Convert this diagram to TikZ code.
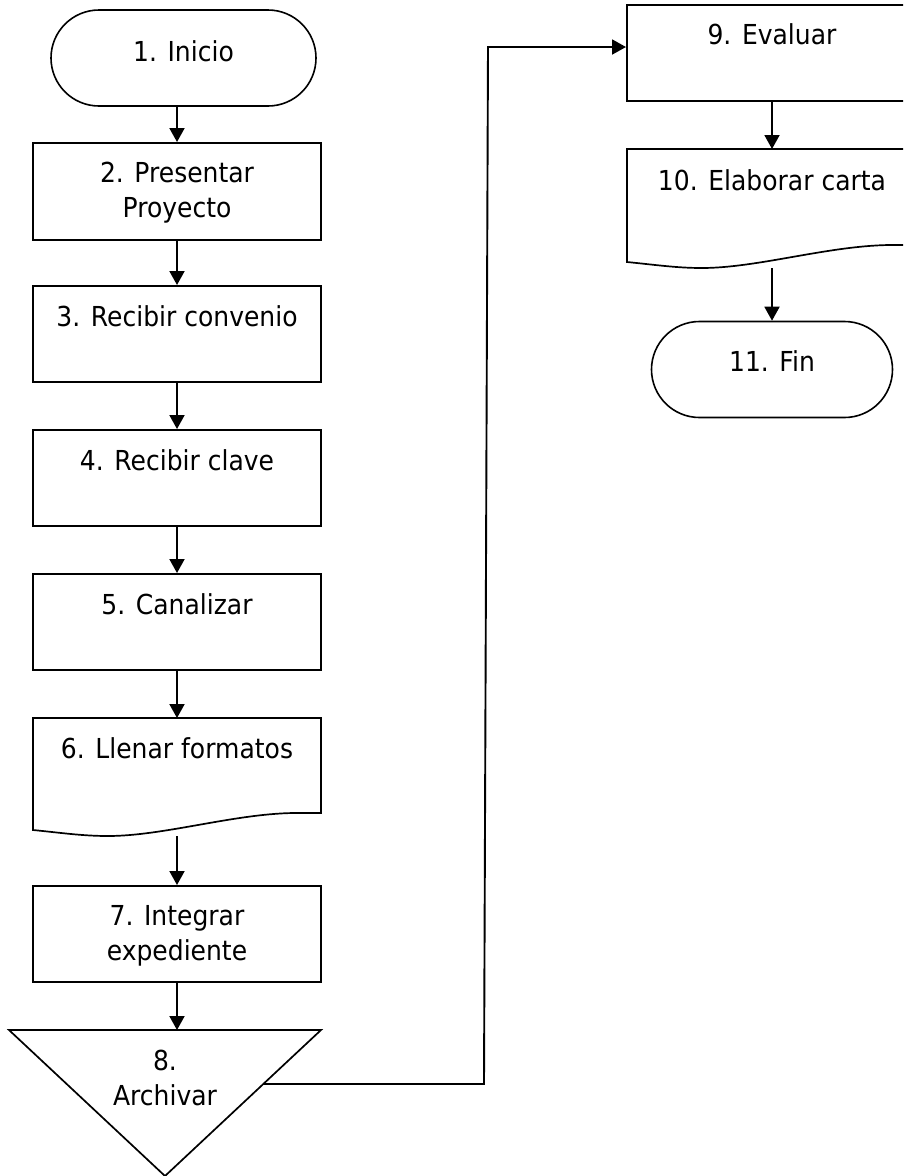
\documentclass[tikz,border=0pt]{standalone}
\usepackage{fontspec}
\setmainfont{DejaVu Sans}[FakeStretch=0.91]
\usetikzlibrary{arrows.meta,calc}

% document symbol: straight top and sides, wavy bottom edge
\newcommand{\flowdoc}[1]{%
  \draw[curveline] ($(#1.south west)+(0,-6)$) -- (#1.north west) -- (#1.north east)
    -- ($(#1.south east)+(0,-23)$) -- ($(#1.south east)+(-28,-23)$)
    .. controls ($(#1.south west)+(200,-22)$) and ($(#1.south west)+(130,0)$) .. ($(#1.south west)+(75,0)$)
    .. controls ($(#1.south west)+(50,0)$) and ($(#1.south west)+(30,-3)$) .. ($(#1.south west)+(0,-6)$) -- cycle;}

\begin{document}
\begin{tikzpicture}[x=1pt,y=-1pt,
  edge/.style={line width=2pt, line join=miter},
  curveline/.style={line width=1.7pt, line join=miter},
  box/.style={draw, edge, minimum width=288pt, inner sep=0pt},
  term/.style={draw, line width=1.6pt, rounded corners=48pt, minimum height=96pt, inner sep=0pt},
  frame/.style={inner sep=0pt, outer sep=0pt},
  lbl/.style={anchor=base, align=center, font=\fontsize{27.5}{35}\selectfont, inner sep=0pt},
  flow/.style={line width=1.9pt, -{Triangle[length=14pt,width=15pt]}}
]
\useasboundingbox (0,0) rectangle (903,1176);
\clip (0,0) rectangle (903,1176);

% left column
\node[term, minimum width=265pt] (n1) at (183.5,58) {};
\node[box, minimum height=97pt] (n2) at (177,191.5) {};
\node[box, minimum height=96pt] (n3) at (177,334) {};
\node[box, minimum height=96pt] (n4) at (177,478) {};
\node[box, minimum height=96pt] (n5) at (177,622) {};
\node[frame, minimum width=288pt, minimum height=118pt] (n6) at (177,777) {};
\flowdoc{n6}
\node[box, minimum height=96pt] (n7) at (177,934) {};
\node[frame, minimum width=312pt, minimum height=146pt] (n8) at (165,1103) {};
\draw[curveline] (n8.north west) -- (n8.north east) -- (n8.south) -- cycle;

% right column
\node[box, minimum width=290pt, minimum height=96pt] (n9) at (772,53) {};
\node[frame, minimum width=290pt, minimum height=119pt] (n10) at (772,208.5) {};
\flowdoc{n10}
\node[term, minimum width=241pt] (n11) at (772,369.5) {};

% labels (base = baseline of the last line)
\node[lbl] (t1) at ($(n1.north)+(0,52)$) {1. Inicio};
\node[lbl] (t2) at ($(n2.north)+(0,75)$) {2. Presentar\\Proyecto};
\node[lbl] (t3) at ($(n3.north)+(0,41)$) {3. Recibir convenio};
\node[lbl] (t4) at ($(n4.north)+(0,41)$) {4. Recibir clave};
\node[lbl] (t5) at ($(n5.north)+(0,41)$) {5. Canalizar};
\node[lbl] (t6) at ($(n6.north)+(0,40)$) {6. Llenar formatos};
\node[lbl] (t7) at ($(n7.north)+(0,75)$) {7. Integrar\\expediente};
\node[lbl] (t8) at ($(n8.north)+(0,75)$) {8.\\Archivar};
\node[lbl] (t9) at ($(n9.north)+(0,40)$) {9. Evaluar};
\node[lbl] (t10) at ($(n10.north)+(0,41)$) {10. Elaborar carta};
\node[lbl] (t11) at ($(n11.north)+(0,51)$) {11. Fin};

% connectors
\draw[flow] (n2.north |- n1.south) -- (n2.north);
\draw[flow] (n2.south) -- (n3.north);
\draw[flow] (n3.south) -- (n4.north);
\draw[flow] (n4.south) -- (n5.north);
\draw[flow] (n5.south) -- (n6.north);
\draw[flow] (n6.south) -- (n7.north);
\draw[flow] (n7.south) -- (n7.south |- n8.north);
\coordinate (c8) at ($(n8.north east)!0.37!(n8.south)$);
\draw[flow] (c8) -- (484,1084) -- (488,47) -- ($(n9.west)+(0,-6)$);
\draw[flow] (n9.south) -- (n10.north);
\draw[flow] (n10.south) -- (n11.north);
\end{tikzpicture}
\end{document}
